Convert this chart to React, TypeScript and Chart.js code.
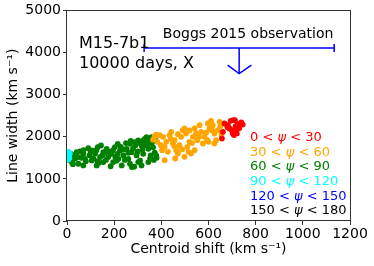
import React, { useEffect, useRef } from 'react';
import { Chart, registerables } from 'chart.js';
Chart.register(...registerables);

// ---- data (centroid shift km/s, line width km/s) ----
const redShift = [657, 661, 668, 682, 694, 699, 703, 689, 705, 712, 739, 725, 745, 715, 730, 712, 720, 708, 680];
const redWidth = [1959, 2117, 2315, 2275, 2378, 2157, 2077, 2196, 2393, 2393, 2338, 2300, 2290, 2250, 2200, 2120, 2080, 2040, 2230];

const orangeShift = [371, 383, 393, 407, 403, 414, 421, 435, 442, 449, 456, 463, 459, 470, 477, 484, 491, 498, 505, 510, 515, 519, 534, 541, 548, 552, 562, 569, 576, 583, 595, 597, 604, 611, 618, 625, 632, 639, 647, 625, 526, 414, 428, 498, 541, 365, 378, 398, 440, 470, 488, 530, 560, 590, 615, 650, 655, 600, 455, 520];
const orangeWidth = [1998, 1880, 2038, 1998, 1682, 1445, 1880, 2038, 2117, 1840, 1919, 1682, 1485, 1603, 1801, 1998, 2157, 2196, 2077, 1761, 1643, 1880, 1998, 2196, 2077, 1919, 2275, 2117, 1840, 1998, 1919, 2315, 2196, 2378, 2275, 2077, 1919, 2157, 2354, 1840, 1603, 1761, 1643, 1524, 1682, 1930, 2050, 1800, 1950, 2060, 1700, 1850, 2000, 2100, 2150, 2250, 2050, 1880, 1780, 2150];

const greenShift = [17, 27, 41, 55, 69, 76, 90, 105, 119, 130, 144, 154, 168, 175, 189, 203, 215, 225, 239, 253, 267, 274, 288, 302, 316, 330, 337, 323, 345, 20, 48, 69, 105, 126, 154, 196, 232, 267, 302, 316, 345, 34, 140, 218, 260, 295, 10, 25, 35, 60, 80, 95, 112, 125, 135, 150, 165, 180, 185, 205, 215, 228, 245, 250, 260, 280, 285, 290, 300, 310, 320, 335, 340, 350, 355, 360, 365, 372, 375, 380, 368, 358, 345, 325, 310, 270, 240, 195, 160, 100, 70, 45, 15, 130, 210, 275, 352, 378];
const greenWidth = [1596, 1556, 1635, 1651, 1596, 1477, 1730, 1675, 1596, 1754, 1793, 1635, 1714, 1517, 1596, 1754, 1833, 1675, 1556, 1714, 1833, 1635, 1872, 1912, 1793, 1951, 1990, 1596, 1714, 1398, 1359, 1319, 1438, 1319, 1398, 1398, 1319, 1359, 1398, 1319, 1398, 1477, 1517, 1477, 1477, 1556, 1450, 1350, 1560, 1500, 1420, 1560, 1480, 1680, 1380, 1560, 1450, 1640, 1300, 1520, 1600, 1760, 1450, 1850, 1620, 1720, 1290, 1800, 1650, 1860, 1700, 1800, 1880, 1940, 1560, 1860, 1750, 1620, 1920, 1500, 1450, 1990, 1830, 1920, 1430, 1900, 1700, 1680, 1620, 1650, 1680, 1520, 1520, 1420, 1430, 1280, 1480, 1560];

const cyanShift = [6, 8, 9, 7, 10, 12, 5];
const cyanWidth = [1460, 1520, 1580, 1640, 1500, 1600, 1550];

const blueShift: number[] = [];
const blueWidth: number[] = [];
const blackShift: number[] = [];
const blackWidth: number[] = [];

// Boggs 2015 observation (upper limit)
const boggsRange = [327, 1133];
const boggsWidth = 4107;
const boggsCapHalf = 95;
const boggsArrowX = 730;
const boggsArrowTip = 3500;
const boggsArrowWingX = [681, 782];
const boggsArrowWingY = 3700;
const boggsLabel = 'Boggs 2015 observation';
const boggsLabelPos = [768, 4420];

const xTicks = [0, 200, 400, 600, 800, 1000, 1200];
const yTicks = [0, 1000, 2000, 3000, 4000, 5000];

const legendLo = ['0', '30', '60', '90', '120', '150'];
const legendHi = ['30', '60', '90', '120', '150', '180'];
const legendColors = ['#ff0000', '#ffa500', '#008000', '#00ffff', '#0000ff', '#000000'];

const modelLines = ['M15-7b1', '10000 days, X'];

const FONT = 'DejaVu Sans';

const pts = (xs: number[], ys: number[]) => xs.map((x, i) => ({ x, y: ys[i] }));

const textPlugin = {
  id: 'annot',
  afterDraw(chart: any) {
    const { ctx, chartArea: a, scales } = chart;
    const xs = scales.x, ys = scales.y;
    ctx.save();
    // frame
    ctx.strokeStyle = '#333333';
    ctx.lineWidth = 1;
    ctx.strokeRect(Math.round(a.left) - 0.5, Math.round(a.top) + 0.5, Math.round(a.right - a.left) + 1, Math.round(a.bottom - a.top) - 1);
    // model text
    ctx.fillStyle = '#000';
    ctx.font = `16px "${FONT}"`;
    ctx.textBaseline = 'middle';
    ctx.textAlign = 'left';
    modelLines.forEach((t, i) => ctx.fillText(t, a.left + 12, a.top + 33 + i * 20));
    // boggs label
    ctx.font = `14px "${FONT}"`;
    ctx.textAlign = 'center';
    ctx.fillText(boggsLabel, xs.getPixelForValue(boggsLabelPos[0]), ys.getPixelForValue(boggsLabelPos[1]));
    // legend (left aligned text block)
    const left = a.left + 183;
    ctx.textAlign = 'left';
    legendLo.forEach((lo, i) => {
      const y = a.top + 127.5 + i * 14.6;
      const s1 = lo + ' < ';
      const s3 = ' < ' + legendHi[i];
      ctx.font = `13px "${FONT}"`;
      const w1 = ctx.measureText(s1).width;
      ctx.font = `italic 13px "${FONT}"`;
      const w2 = ctx.measureText('ψ').width;
      ctx.fillStyle = legendColors[i];
      ctx.font = `13px "${FONT}"`;
      ctx.fillText(s1, left, y);
      ctx.font = `italic 13px "${FONT}"`;
      ctx.fillText('ψ', left + w1, y);
      ctx.font = `13px "${FONT}"`;
      ctx.fillText(s3, left + w1 + w2, y);
    });
    ctx.restore();
  },
};

export default function App() {
  const ref = useRef<HTMLCanvasElement>(null);
  useEffect(() => {
    if (!ref.current) return;
    const blue = '#0000ff';
    const lineDs = (data: { x: number; y: number }[]) => ({
      type: 'line' as const,
      data,
      showLine: true,
      borderColor: blue,
      borderWidth: 1.5,
      pointRadius: 0,
      fill: false,
      tension: 0,
      clip: false as any,
      order: 0,
    });
    const dot = (xs: number[], ys: number[], color: string, order: number) => ({
      data: pts(xs, ys),
      backgroundColor: color,
      borderWidth: 0,
      pointRadius: 2.9,
      pointHoverRadius: 2.9,
      clip: 0 as any,
      order,
    });
    const plain = (v: any) => String(v);
    const chart = new Chart(ref.current, {
      type: 'scatter',
      data: {
        datasets: [
          lineDs([{ x: boggsRange[0], y: boggsWidth }, { x: boggsRange[1], y: boggsWidth }]),
          lineDs([{ x: boggsRange[0], y: boggsWidth - boggsCapHalf }, { x: boggsRange[0], y: boggsWidth + boggsCapHalf }]),
          lineDs([{ x: boggsRange[1], y: boggsWidth - boggsCapHalf }, { x: boggsRange[1], y: boggsWidth + boggsCapHalf }]),
          lineDs([{ x: boggsArrowX, y: boggsWidth }, { x: boggsArrowX, y: boggsArrowTip }]),
          lineDs([{ x: boggsArrowWingX[0], y: boggsArrowWingY }, { x: boggsArrowX, y: boggsArrowTip }, { x: boggsArrowWingX[1], y: boggsArrowWingY }]),
          dot(blackShift, blackWidth, '#000000', 1),
          dot(blueShift, blueWidth, '#0000ff', 2),
          dot(cyanShift, cyanWidth, '#00ffff', 3),
          dot(redShift, redWidth, '#ff0000', 4),
          dot(orangeShift, orangeWidth, '#ffa500', 5),
          dot(greenShift, greenWidth, '#008000', 6),
        ] as any,
      },
      options: {
        animation: false,
        responsive: false,
        events: [],
        layout: { padding: { top: 10, right: 24, left: 0, bottom: 0 } },
        plugins: { legend: { display: false }, tooltip: { enabled: false } },
        scales: {
          x: {
            type: 'linear',
            min: 0,
            max: 1200,
            afterBuildTicks: (s: any) => { s.ticks = xTicks.map((v) => ({ value: v })); },
            afterFit: (s: any) => { s.height = 45; },
            grid: { display: true, drawOnChartArea: false, drawTicks: true, tickLength: 4, color: '#333333' },
            border: { display: false },
            ticks: { color: '#000', font: { family: FONT, size: 14 }, padding: 1, maxRotation: 0, callback: plain },
            title: { display: true, text: 'Centroid shift (km s⁻¹)', color: '#000', font: { family: FONT, size: 14 }, padding: { top: 8, bottom: 8 } },
          },
          y: {
            type: 'linear',
            min: 0,
            max: 5000,
            afterBuildTicks: (s: any) => { s.ticks = yTicks.map((v) => ({ value: v })); },
            afterFit: (s: any) => { s.width = 67; },
            grid: { display: true, drawOnChartArea: false, drawTicks: true, tickLength: 4, color: '#333333' },
            border: { display: false },
            ticks: { color: '#000', font: { family: FONT, size: 14 }, padding: 2, callback: plain },
            title: { display: true, text: 'Line width (km s⁻¹)', color: '#000', font: { family: FONT, size: 14 }, padding: { top: 5, bottom: 5 } },
          },
        },
      } as any,
      plugins: [textPlugin],
    });
    return () => chart.destroy();
  }, []);
  return (
    <div style={{ position: 'fixed', left: 0, top: 0, width: 374, height: 266, background: '#fff' }}>
      <canvas ref={ref} width={374} height={266} />
    </div>
  );
}
